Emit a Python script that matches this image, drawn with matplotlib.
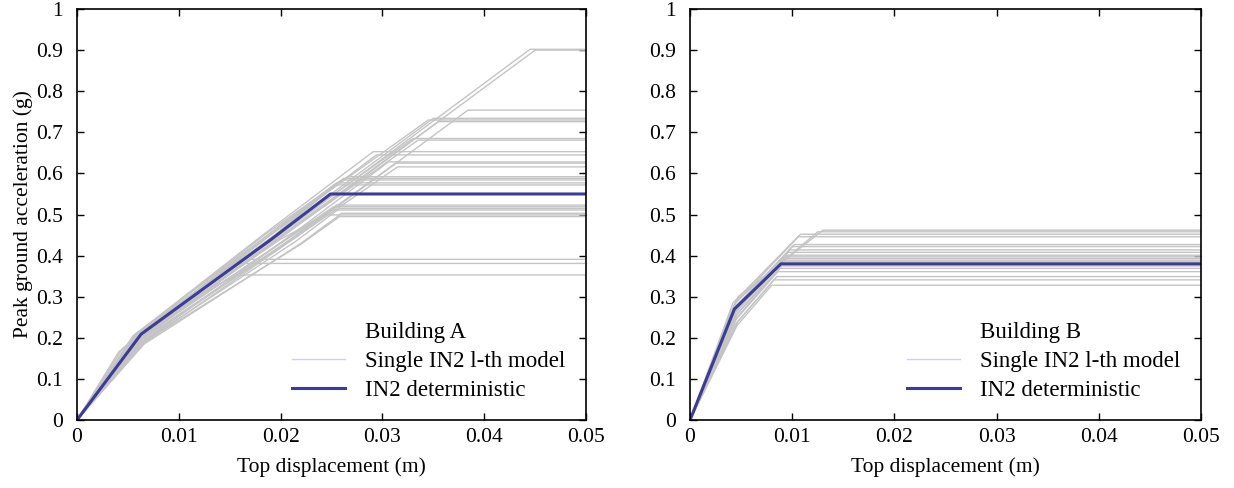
import matplotlib.pyplot as plt
from matplotlib.lines import Line2D

plt.rcParams['font.family'] = ['Liberation Serif', 'DejaVu Serif']
plt.rcParams['font.size'] = 15.5

x_ticks = [0, 0.01, 0.02, 0.03, 0.04, 0.05]
x_tick_labels = ['0', '0.01', '0.02', '0.03', '0.04', '0.05']
y_ticks = [0, 0.1, 0.2, 0.3, 0.4, 0.5, 0.6, 0.7, 0.8, 0.9, 1]
y_tick_labels = ['0', '0.1', '0.2', '0.3', '0.4', '0.5', '0.6', '0.7', '0.8', '0.9', '1']

# Building A - single l-th models: first kink, second kink, yield point
a_d1 = [0.0060, 0.0062, 0.0063, 0.0058, 0.0055, 0.0062, 0.0060, 0.0064, 0.0057, 0.0060,
        0.0065, 0.0064, 0.0066, 0.0060, 0.0058, 0.0061, 0.0045, 0.0060, 0.0063, 0.0062,
        0.0065, 0.0061, 0.0066, 0.0060, 0.0065, 0.0041, 0.0060, 0.0062]
a_a1 = [0.205, 0.200, 0.195, 0.210, 0.205, 0.200, 0.210, 0.198, 0.208, 0.205,
        0.190, 0.192, 0.188, 0.205, 0.207, 0.203, 0.175, 0.205, 0.195, 0.198,
        0.190, 0.200, 0.185, 0.202, 0.188, 0.166, 0.200, 0.190]
a_d2 = [0.0200, 0.0205, 0.0215, 0.0195, 0.0190, 0.0200, 0.0195, 0.0200, 0.0185, 0.0190,
        0.0205, 0.0210, 0.0214, 0.0190, 0.0185, 0.0195, 0.0190, 0.0195, 0.0210, 0.0205,
        0.0215, 0.0205, 0.0220, 0.0200, 0.0220, 0.0110, 0.0110, 0.0100]
a_a2 = [0.452, 0.452, 0.445, 0.450, 0.455, 0.448, 0.450, 0.445, 0.455, 0.450,
        0.440, 0.440, 0.443, 0.450, 0.452, 0.450, 0.455, 0.452, 0.440, 0.440,
        0.435, 0.438, 0.430, 0.440, 0.428, 0.300, 0.295, 0.280]
a_dy = [0.0445, 0.0450, 0.0384, 0.0350, 0.0345, 0.0355, 0.0330, 0.0335, 0.0291, 0.0294,
        0.0306, 0.0313, 0.0315, 0.0266, 0.0262, 0.0260, 0.0255, 0.0252, 0.0255, 0.0252,
        0.0258, 0.0250, 0.0260, 0.0245, 0.0258, 0.0157, 0.0160, 0.0157]
a_ay = [0.902, 0.900, 0.754, 0.734, 0.730, 0.726, 0.685, 0.681, 0.653, 0.645,
        0.628, 0.625, 0.616, 0.592, 0.588, 0.584, 0.577, 0.572, 0.523, 0.519,
        0.515, 0.511, 0.503, 0.499, 0.495, 0.391, 0.381, 0.353]
a_det_x = [0, 0.0063, 0.0191, 0.0249, 0.05]
a_det_y = [0, 0.209, 0.440, 0.550, 0.550]

# Building B - single l-th models: kink, yield point
b_d1 = [0.0047, 0.0045, 0.0042, 0.0043, 0.0044, 0.0045, 0.0040, 0.0044, 0.0045, 0.0042,
        0.0044, 0.0046, 0.0043, 0.0045, 0.0046, 0.0045, 0.0047, 0.0045, 0.0046]
b_a1 = [0.300, 0.290, 0.285, 0.280, 0.275, 0.270, 0.265, 0.268, 0.262, 0.270,
        0.265, 0.258, 0.262, 0.255, 0.250, 0.245, 0.240, 0.235, 0.230]
b_dy = [0.0130, 0.0125, 0.0108, 0.0106, 0.0102, 0.0100, 0.0098, 0.0096, 0.0095, 0.0094,
        0.0092, 0.0092, 0.0090, 0.0090, 0.0088, 0.0086, 0.0085, 0.0082, 0.0080]
b_ay = [0.462, 0.458, 0.452, 0.446, 0.427, 0.422, 0.414, 0.408, 0.401, 0.397,
        0.393, 0.389, 0.385, 0.375, 0.369, 0.361, 0.349, 0.341, 0.328]
b_det_x = [0, 0.00434, 0.0089, 0.05]
b_det_y = [0, 0.270, 0.380, 0.380]

x_max = 0.05
gray = '#c4c4c4'
blue = '#3c3c98'
lavender = '#d6ccf0'


def style_axes(ax, name):
    ax.set_xlim(0, x_max)
    ax.set_ylim(0, 1)
    ax.set_xticks(x_ticks)
    ax.set_xticklabels(x_tick_labels)
    ax.set_yticks(y_ticks)
    ax.set_yticklabels(y_tick_labels)
    ax.tick_params(direction='in', top=True, right=True, length=5, width=1,
                   labelsize=15.5)
    ax.tick_params(axis='x', pad=6)
    ax.tick_params(axis='y', pad=10)
    ax.set_xlabel('Top displacement (m)', fontsize=15.5, labelpad=7)
    for sp in ax.spines.values():
        sp.set_linewidth(1.2)
    handles = [Line2D([], [], color='none'),
               Line2D([], [], color=lavender, lw=1),
               Line2D([], [], color=blue, lw=2.2)]
    labels = [name, 'Single IN2 l-th model', 'IN2 deterministic']
    ax.legend(handles, labels, loc='lower right', bbox_to_anchor=(1.0, -0.005),
              frameon=False, fontsize=16.5, handlelength=2.3, handletextpad=0.9,
              labelspacing=0.35)


fig = plt.figure(figsize=(12.34, 4.88), dpi=100)
ax1 = fig.add_axes([0.0624, 0.1393, 0.4125, 0.8422])
ax2 = fig.add_axes([0.5592, 0.1393, 0.4141, 0.8422])

for i in range(len(a_ay)):
    ax1.plot([0, a_d1[i], a_d2[i], a_dy[i], x_max],
             [0, a_a1[i], a_a2[i], a_ay[i], a_ay[i]], color=gray, lw=1)
ax1.plot(a_det_x, a_det_y, color=blue, lw=2.2)

for i in range(len(b_ay)):
    ax2.plot([0, b_d1[i], b_dy[i], x_max],
             [0, b_a1[i], b_ay[i], b_ay[i]], color=gray, lw=1)
ax2.plot(b_det_x, b_det_y, color=blue, lw=2.2)

style_axes(ax1, 'Building A')
style_axes(ax2, 'Building B')
ax1.set_ylabel('Peak ground acceleration (g)', fontsize=15.5, labelpad=2)

fig.savefig('out.png', dpi=100)
